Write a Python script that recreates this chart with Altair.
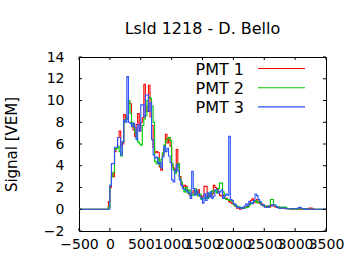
import altair as alt
import pandas as pd

FONT = "DejaVu Sans"

# ---- data -------------------------------------------------------------
BIN_START = -25      # start of first histogram bin (ns)
BIN_WIDTH = 25       # bin width (ns)
X_MIN, X_MAX = -500, 3500
Y_MIN, Y_MAX = -2, 14
X_TICKS = [-500, 0, 500, 1000, 1500, 2000, 2500, 3000, 3500]
Y_TICKS = [-2, 0, 2, 4, 6, 8, 10, 12, 14]

NAMES = ["PMT 1", "PMT 2", "PMT 3"]
COLORS = ["#ff0000", "#00cc00", "#2a50ff"]

PMT1 = [
    0.7, 2.0, 3.3, 3.0, 5.3, 5.6, 6.6, 7.2, 5.8, 6.0,
    8.7, 8.3, 8.3, 9.8, 9.7, 7.8, 7.3, 6.7, 7.8, 8.8,
    7.2, 8.0, 8.4, 11.5, 9.5, 9.0, 11.4, 8.5, 7.7, 5.7,
    5.2, 5.3, 5.2, 3.9, 3.6, 5.0, 5.5, 6.9, 6.1, 6.6,
    5.8, 4.0, 3.8, 3.4, 5.5, 4.2, 3.0, 2.3, 2.1, 2.2,
    2.1, 1.7, 1.4, 1.3, 1.5, 1.7, 1.6, 1.4, 1.8, 1.3,
    1.1, 1.2, 2.1, 2.1, 1.1, 1.3, 1.2, 1.4, 2.2, 2.0,
    1.9, 1.6, 1.3, 1.2, 1.3, 1.0, 1.0, 0.9, 0.7, 0.6,
    0.5, 0.5, 0.3, 0.1, 0.1, 0.0, 0.05, 0.1, 0.2, 0.2,
    0.3, 0.5, 0.8, 0.95, 0.6, 0.8, 0.9, 0.6, 0.5, 0.5,
    0.3, 0.3, 0.2, 0.3, 0.2, 0.4, 0.3, 0.3, 0.2, 0.2,
    0.2, 0.1, 0.1, 0.1, 0.1, 0.05, 0.05, 0.05, 0.0, 0.05,
    0.0, 0.05, 0.0, 0.0, 0.05, 0.0, 0.05, 0.0, 0.0, 0.05,
    0.1, 0.12, 0.05,
]
PMT2 = [
    0.2, 2.2, 3.0, 3.4, 5.5, 5.6, 5.8, 5.3, 4.9, 6.2,
    8.0, 8.3, 8.6, 10.0, 8.8, 8.0, 7.6, 7.1, 6.5, 6.2,
    6.0, 5.9, 7.7, 8.3, 8.6, 10.0, 10.3, 10.2, 9.5, 8.0,
    4.4, 4.2, 4.7, 4.0, 4.6, 5.2, 5.9, 6.3, 6.5, 6.6,
    6.3, 4.2, 3.6, 3.3, 3.8, 4.2, 2.9, 2.5, 2.0, 1.6,
    2.0, 1.5, 1.8, 1.2, 1.4, 1.3, 1.9, 1.6, 1.2, 1.4,
    0.9, 1.0, 1.0, 1.2, 1.0, 1.5, 1.3, 1.7, 1.6, 1.7,
    1.5, 1.9, 2.4, 2.4, 1.6, 1.0, 0.9, 0.9, 0.8, 0.9,
    0.7, 0.4, 0.3, 0.3, 0.2, 0.2, 0.1, 0.1, 0.1, 0.2,
    0.2, 0.4, 0.5, 0.6, 0.7, 0.8, 0.6, 0.7, 0.6, 0.4,
    0.4, 0.3, 0.3, 0.2, 0.3, 0.9, 0.9, 0.4, 0.3, 0.2,
    0.2, 0.1, 0.2, 0.2, 0.2, 0.1, 0.05, 0.05, 0.05, 0.0,
    0.05, 0.05, 0.0, 0.05, 0.05, 0.05, 0.05, 0.0, 0.05, 0.0,
    0.0, 0.0, 0.0,
]
PMT3 = [
    0.0, 2.2, 4.2, 4.2, 5.7, 5.7, 6.6, 6.6, 5.0, 6.2,
    8.2, 8.0, 12.2, 8.0, 7.9, 7.6, 7.9, 7.5, 6.4, 7.8,
    7.2, 9.6, 9.6, 8.5, 10.5, 10.5, 9.0, 9.8, 6.4, 5.0,
    4.7, 4.8, 4.2, 4.3, 3.8, 4.8, 5.8, 5.3, 5.6, 4.9,
    4.3, 2.7, 2.5, 3.6, 4.1, 3.5, 2.7, 2.2, 1.9, 1.8,
    1.8, 1.6, 1.5, 1.0, 3.5, 1.9, 1.3, 1.7, 1.4, 1.2,
    1.0, 0.55, 1.4, 0.8, 1.5, 1.1, 1.6, 1.0, 1.2, 1.8,
    1.8, 1.5, 1.6, 1.8, 1.0, 1.2, 1.4, 1.3, 6.7, 0.9,
    0.8, 0.5, 0.4, 0.2, 0.2, 0.1, 0.15, 0.1, 0.3, 0.5,
    0.3, 0.7, 0.6, 0.5, 0.8, 1.4, 1.25, 0.9, 0.7, 0.4,
    0.4, 0.2, 0.2, 0.2, 0.3, 0.3, 0.4, 0.4, 0.3, 0.2,
    0.1, 0.1, 0.1, 0.1, 0.1, 0.05, 0.05, 0.05, 0.05, 0.05,
    0.05, 0.05, 0.05, 0.15, 0.17, 0.05, 0.05, 0.0, 0.05, 0.0,
    0.0, 0.0, 0.0,
]
SERIES = [PMT1, PMT2, PMT3]


def series_frame(values):
    ts = [X_MIN] + [BIN_START + i * BIN_WIDTH for i in range(len(values))]
    vs = [0.0] + list(values)
    ts += [BIN_START + len(values) * BIN_WIDTH, X_MAX]
    vs += [0.0, 0.0]
    return pd.DataFrame({"t": ts, "v": vs})


# ---- layout -----------------------------------------------------------
W, H = 247, 174
PAD = {"left": 79, "top": 57, "right": 34, "bottom": 39}
TICK_LEN = 3

xscale = alt.Scale(domain=[X_MIN, X_MAX], nice=False, zero=False)
yscale = alt.Scale(domain=[Y_MIN, Y_MAX], nice=False, zero=False)
xaxis = alt.Axis(values=X_TICKS, title=None, labelOverlap=False, labelFlush=False,
                 labelBound=False, labelPadding=6, tickSize=0, domain=False, grid=False,
                 format="d")
yaxis = alt.Axis(values=Y_TICKS, title="Signal [VEM]", labelOverlap=False, labelFlush=False,
                 labelPadding=15, tickSize=0, domain=False, grid=False, titlePadding=24,
                 format="d")


def X(field):
    return alt.X(f"{field}:Q", scale=xscale, axis=xaxis)


def Y(field):
    return alt.Y(f"{field}:Q", scale=yscale, axis=yaxis)


layers = []
for vals, col in zip(SERIES, COLORS):
    layers.append(
        alt.Chart(series_frame(vals))
        .mark_line(interpolate="step-after", color=col, strokeWidth=1.1, clip=True)
        .encode(x=X("t"), y=Y("v"), order="t:Q")
    )

# inward (mirrored) ticks like gnuplot
xt = pd.DataFrame({"t": X_TICKS})
yt = pd.DataFrame({"v": Y_TICKS})
layers.append(alt.Chart(xt).mark_rule(color="black", strokeWidth=1)
              .encode(x=X("t"), y=alt.value(H), y2=alt.value(H - TICK_LEN)))
layers.append(alt.Chart(xt).mark_rule(color="black", strokeWidth=1)
              .encode(x=X("t"), y=alt.value(0), y2=alt.value(TICK_LEN)))
layers.append(alt.Chart(yt).mark_rule(color="black", strokeWidth=1)
              .encode(y=Y("v"), x=alt.value(0), x2=alt.value(TICK_LEN)))
layers.append(alt.Chart(yt).mark_rule(color="black", strokeWidth=1)
              .encode(y=Y("v"), x=alt.value(W), x2=alt.value(W - TICK_LEN)))

# gnuplot-style key: label on the left, line sample on the right
for i, (name, col) in enumerate(zip(NAMES, COLORS)):
    yy = 11.5 + 19.2 * i
    layers.append(
        alt.Chart(pd.DataFrame({"label": [name]}))
        .mark_text(align="right", baseline="middle", font=FONT, fontSize=16, color="black")
        .encode(text="label:N", x=alt.value(165), y=alt.value(yy + 1))
    )
    layers.append(
        alt.Chart(pd.DataFrame({"label": [name]}))
        .mark_rule(color=col, strokeWidth=1.1)
        .encode(x=alt.value(179), x2=alt.value(226), y=alt.value(yy))
    )

chart = (
    alt.layer(*layers)
    .properties(
        width=W,
        height=H,
        autosize=alt.AutoSizeParams(type="none"),
        padding=PAD,
        title=alt.TitleParams("Lsld 1218 - D. Bello", font=FONT, fontSize=16,
                              fontWeight="normal", color="black", offset=13,
                              anchor="middle"),
        background="white",
    )
    .configure_view(stroke="black", strokeWidth=1)
    .configure_axis(labelFont=FONT, labelFontSize=14, labelColor="black",
                    titleFont=FONT, titleFontSize=15, titleFontWeight="normal",
                    titleColor="black")
)

chart.save("out.html", embed_options={"renderer": "svg", "actions": False})
